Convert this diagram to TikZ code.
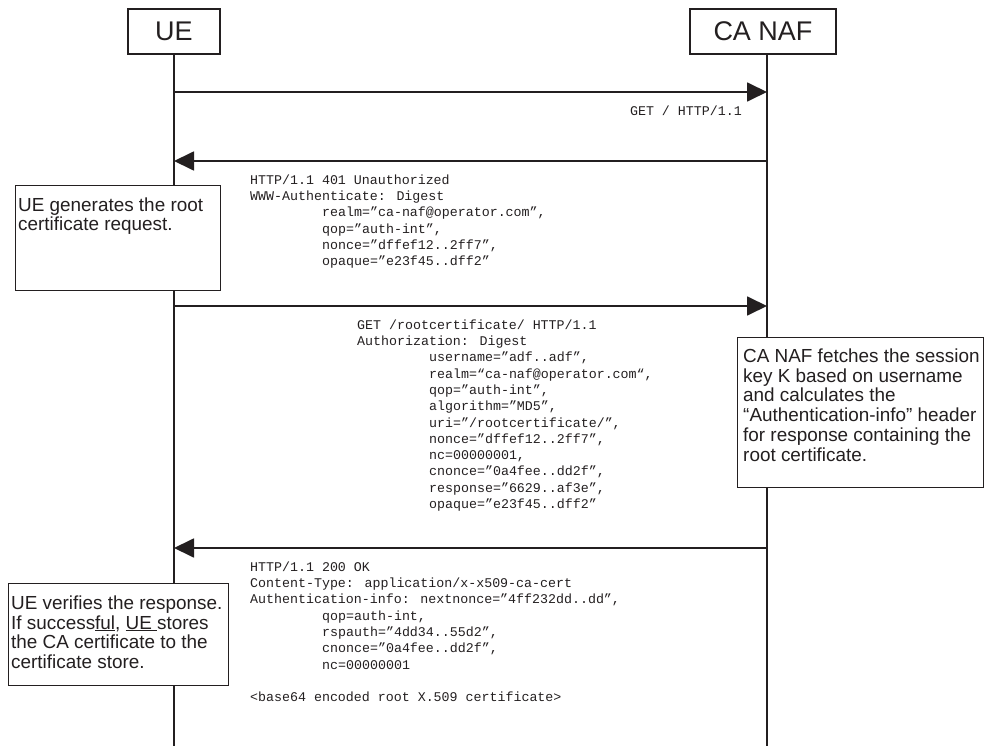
\documentclass[tikz,border=0pt]{standalone}
\usepackage{fontspec}
\setmainfont{Liberation Sans}
\newfontfamily\codefont{Liberation Mono}
\usetikzlibrary{arrows.meta}
\definecolor{ink}{HTML}{231F20}
\newcommand\cind{\hspace*{72pt}}
\begin{document}
\begin{tikzpicture}[x=1pt,y=-1pt,
  actor/.style={draw=ink, line width=1.2pt, minimum width=92pt, minimum height=45pt,
    inner sep=0pt, font=\fontsize{27}{32}\selectfont, text=ink},
  life/.style={draw=ink, line width=1.3pt},
  msg/.style={draw=ink, line width=1.8pt, -{Triangle[length=20pt,width=19pt]}},
  code/.style={anchor=north west, inner sep=0pt, align=left, text=ink,
    font=\codefont\fontsize{13.3}{16.3}\selectfont},
  note/.style={draw=ink, line width=1.2pt, fill=white, inner sep=0pt, anchor=north west},
  notetext/.style={anchor=north west, inner sep=0pt, align=left, text=ink,
    font=\fontsize{18.9}{19.8}\selectfont}]
\useasboundingbox (0,0) rectangle (986,746);

% actors and lifelines
\node[actor] (ue) at (174,31.5) {UE};
\node[actor, minimum width=146pt] (naf) at (763,31.5) {CA NAF};
\coordinate (uebot) at (174,746);
\coordinate (nafbot) at (767,746);
\draw[life] (ue.south) -- (uebot);
\draw[life] (naf.south -| nafbot) -- (nafbot);

% message 1
\coordinate (u1) at (174,92);
\coordinate (n1) at (767,92);
\draw[msg] (u1) -- (n1);
\node[anchor=base east, inner sep=0pt, text=ink, font=\codefont\fontsize{13.3}{16.3}\selectfont] (m1) at (742,116) {GET / HTTP/1.1};

% message 2
\coordinate (u2) at (174,161);
\coordinate (n2) at (767,161);
\draw[msg] (n2) -- (u2);
\node[code] (m2) at (250,173) {\rule{0pt}{11pt}HTTP/1.1 401 Unauthorized\\
WWW-Authenticate: Digest\\
\cind realm=”ca-naf@operator.com”,\\
\cind qop=”auth-int”,\\
\cind nonce=”dffef12..2ff7”,\\
\cind opaque=”e23f45..dff2”};

% note 1
\node[note, minimum width=205pt, minimum height=105pt] (nb1) at (15,185) {};
\node[notetext] (nt1) at (18,197) {\rule{0pt}{14pt}UE generates the root\\certificate request.};

% message 3
\coordinate (u3) at (174,306);
\coordinate (n3) at (767,306);
\draw[msg] (u3) -- (n3);
\node[code] (m3) at (357,318) {\rule{0pt}{11pt}GET /rootcertificate/ HTTP/1.1\\
Authorization: Digest\\
\cind username=”adf..adf”,\\
\cind realm=“ca-naf@operator.com“,\\
\cind qop=”auth-int”,\\
\cind algorithm=”MD5”,\\
\cind uri=”/rootcertificate/”,\\
\cind nonce=”dffef12..2ff7”,\\
\cind nc=00000001,\\
\cind cnonce=”0a4fee..dd2f”,\\
\cind response=”6629..af3e”,\\
\cind opaque=”e23f45..dff2”};

% note 2
\node[note, minimum width=246pt, minimum height=150pt] (nb2) at (737,337) {};
\node[notetext] (nt2) at (743,348) {\rule{0pt}{14pt}CA NAF fetches the session\\
key K based on username\\
and calculates the\\
“Authentication-info” header\\
for response containing the\\
root certificate.};

% message 4
\coordinate (u4) at (174,548);
\coordinate (n4) at (767,548);
\draw[msg] (n4) -- (u4);
\node[code] (m4) at (250,560) {\rule{0pt}{11pt}HTTP/1.1 200 OK\\
Content-Type: application/x-x509-ca-cert\\
Authentication-info: nextnonce=”4ff232dd..dd”,\\
\cind qop=auth-int,\\
\cind rspauth=”4dd34..55d2”,\\
\cind cnonce=”0a4fee..dd2f”,\\
\cind nc=00000001\\
\mbox{}\\
<base64 encoded root X.509 certificate>};

% note 3
\node[note, minimum width=220pt, minimum height=102pt] (nb3) at (8,583) {};
\node[notetext] (nt3) at (11,595) {\rule{0pt}{14pt}UE verifies the response.\\
If success\underline{ful}, \underline{UE\ }stores\\
the CA certificate to the\\
certificate store.};
\end{tikzpicture}
\end{document}
